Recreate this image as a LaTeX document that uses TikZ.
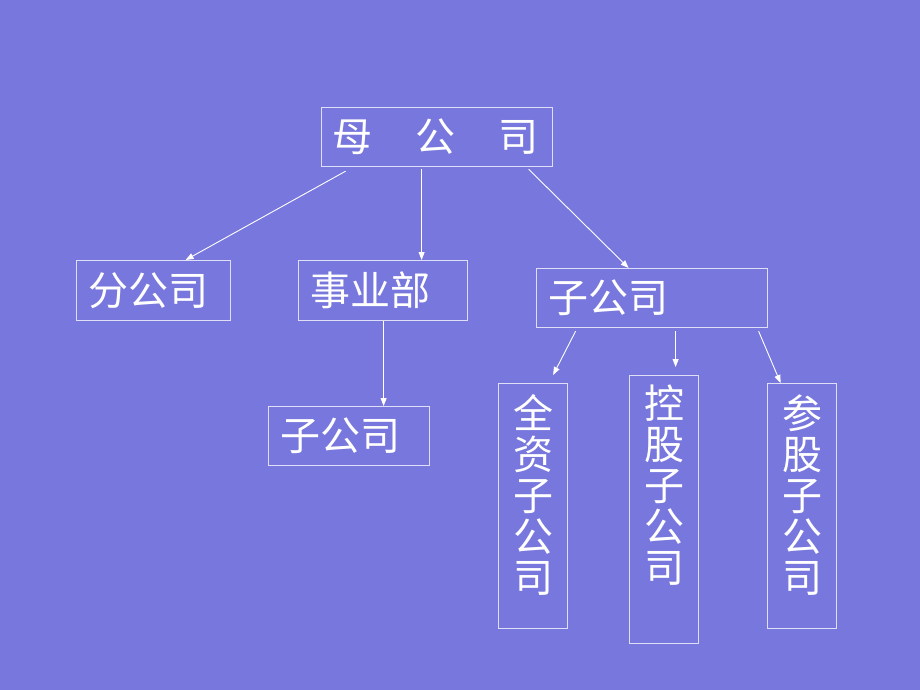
\documentclass[tikz,border=0pt]{standalone}
\usepackage{fontspec}
\newfontfamily\cjk{Noto Sans CJK SC}
\usetikzlibrary{arrows.meta}
\definecolor{bgblue}{RGB}{119,119,221}
\definecolor{boxline}{RGB}{222,222,246}
\tikzset{
  box/.style={draw=boxline, line width=1.2pt, text=white, inner xsep=12pt, inner ysep=0pt,
    align=left, font=\cjk\fontsize{40}{43}\selectfont, anchor=north west},
  vbox/.style={draw=boxline, line width=1.2pt, minimum width=69pt, anchor=north west},
  vtext/.style={text=white, inner sep=0pt, align=center, anchor=north,
    font=\cjk\fontsize{40}{41}\selectfont},
  arr/.style={white, line width=0.9pt, -{Triangle[length=8pt,width=6pt]}}
}
\begin{document}
\begin{tikzpicture}[x=1pt,y=-1pt]
\useasboundingbox[fill=bgblue] (0,0) rectangle (920,690);
\node[box, inner xsep=8pt, text width=215pt, minimum height=59pt] (mu) at (321,107) {\hspace{3pt}母\hspace{43pt}公\hspace{43pt}司};
\node[box, text width=130pt, minimum height=60pt] (fen) at (76,260) {分公司};
\node[box, text width=145pt, minimum height=60pt] (sy) at (298,260) {事业部};
\node[box, text width=207pt, minimum height=59pt] (zr) at (536,268) {子公司};
\node[box, text width=137pt, minimum height=59pt] (zl) at (268,406) {子公司};
\node[vbox, minimum height=245pt] (qz) at (498,383) {};
\node[vbox, minimum height=268pt] (kg) at (629,375) {};
\node[vbox, minimum height=245pt] (cg) at (767,383) {};
\node[vtext] (qzt) at ([yshift=-11pt]qz.north) {全\\资\\子\\公\\司};
\node[vtext] (kgt) at ([yshift=-10pt]kg.north) {控\\股\\子\\公\\司};
\node[vtext] (cgt) at ([yshift=-11pt]cg.north) {参\\股\\子\\公\\司};
\draw[arr] ([xshift=-91.5pt,yshift=-4pt]mu.south) -- ([xshift=32pt]fen.north);
\draw[arr] ([xshift=-15.5pt,yshift=-2pt]mu.south) -- ([xshift=38.5pt]sy.north);
\draw[arr] ([xshift=91.5pt,yshift=-2pt]mu.south) -- ([xshift=-23.5pt]zr.north);
\draw[arr] ([xshift=0.5pt]sy.south) -- ([xshift=34.5pt]zl.north);
\draw[arr] ([xshift=-76.5pt,yshift=-3pt]zr.south) -- ([xshift=20pt,yshift=8pt]qz.north);
\draw[arr] ([xshift=23.5pt,yshift=-3pt]zr.south) -- ([xshift=11.5pt,yshift=8pt]kg.north);
\draw[arr] ([xshift=106.5pt,yshift=-3pt]zr.south) -- ([xshift=-21.5pt]cg.north);
\end{tikzpicture}
\end{document}
